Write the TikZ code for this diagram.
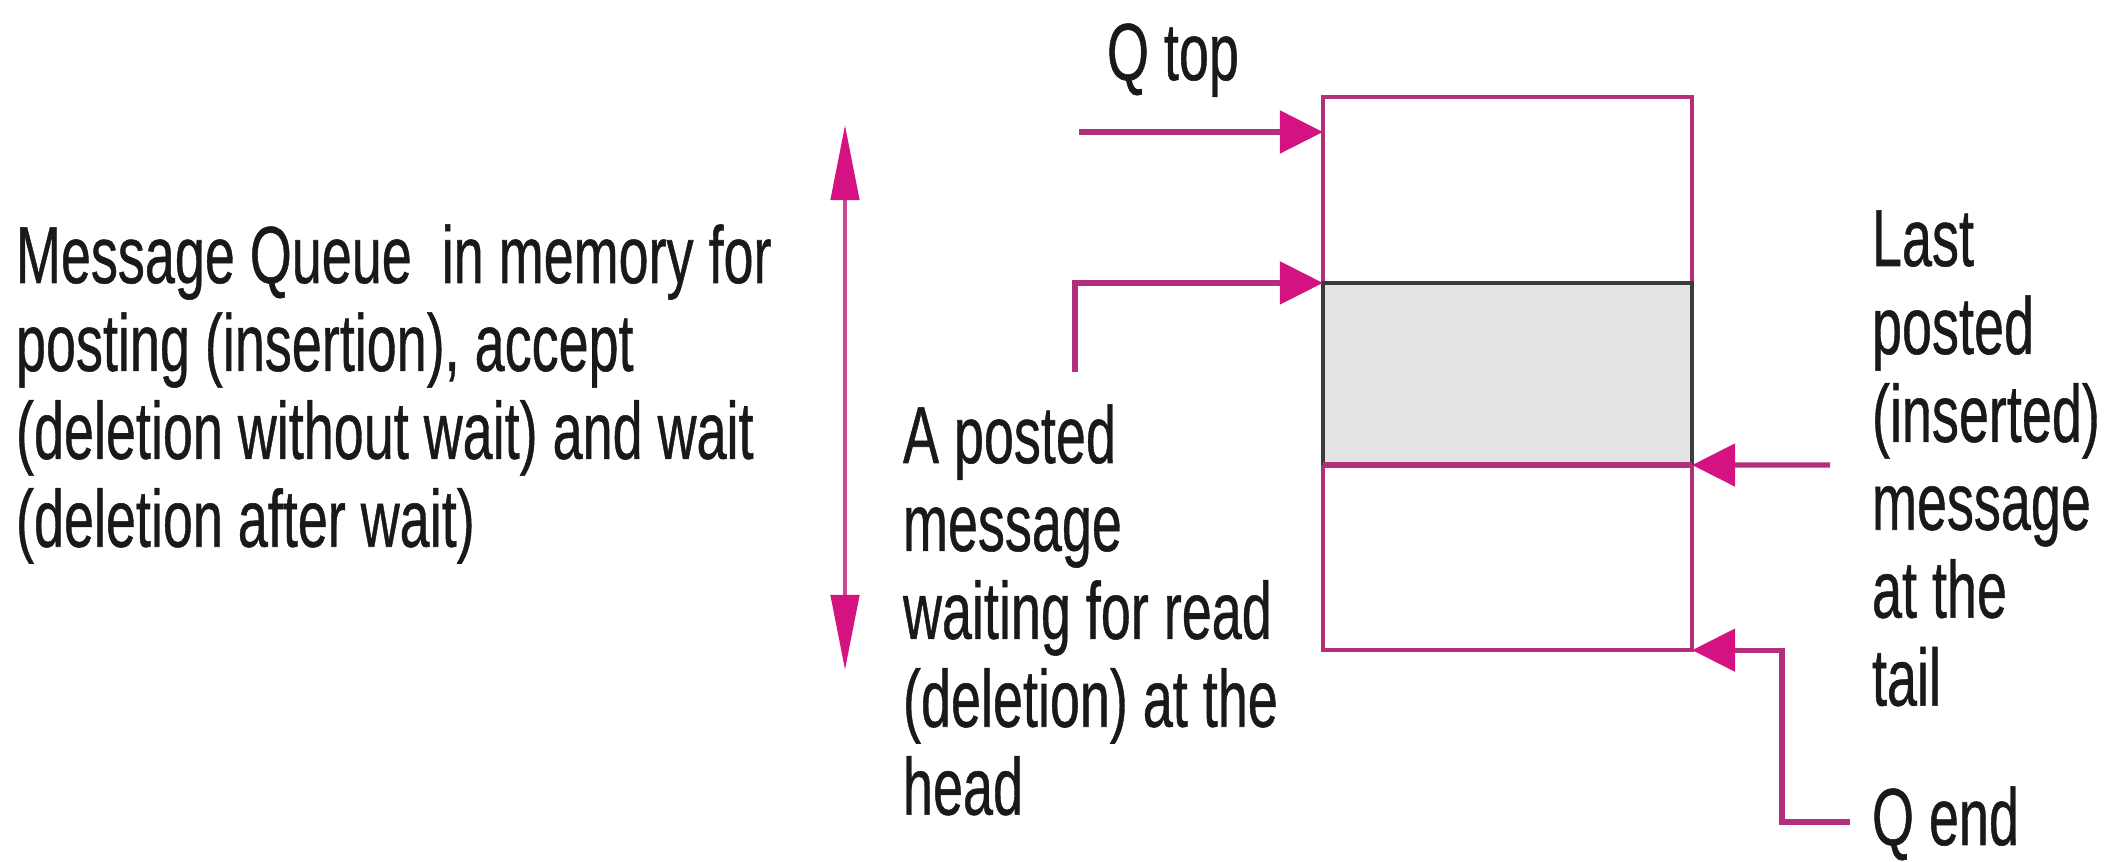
\documentclass[tikz,border=0pt]{standalone}
\usepackage{fontspec}
\setmainfont{Liberation Sans}
\newfontfamily\lblfont{Liberation Sans}[FakeBold=0.7]
\usetikzlibrary{arrows.meta}
\definecolor{pinkline}{RGB}{178,48,122}
\definecolor{pinkhead}{RGB}{212,18,130}
\definecolor{pinklight}{RGB}{206,70,150}
\definecolor{cellgray}{RGB}{228,228,228}
\definecolor{darkline}{RGB}{60,60,60}
\definecolor{txt}{RGB}{25,25,25}
\newcommand{\lbl}[1]{\scalebox{0.667}[1]{\lblfont\fontsize{23}{25}\selectfont\begin{tabular}[t]{@{}l@{}}#1\end{tabular}}}
\tikzset{
  lab/.style={inner sep=0pt, outer sep=0pt, text=txt, anchor=base west},
  qbox/.style={draw=pinkline, line width=1.3pt, inner sep=0pt, outer sep=0pt,
    minimum width=3.69cm, minimum height=5.53cm},
  msgcell/.style={fill=cellgray, inner sep=0pt, outer sep=0pt,
    minimum width=3.69cm, minimum height=1.82cm},
  parrow/.style={draw=pinkline, line width=1.5pt,
    -{Triangle[length=0.43cm,width=0.42cm,color=pinkhead]}},
  varrows/.style={draw=pinklight, line width=1.3pt,
    {Triangle[length=0.75cm,width=0.28cm,color=pinkhead]}-{Triangle[length=0.75cm,width=0.28cm,color=pinkhead]}},
}
\begin{document}
\begin{tikzpicture}[x=0.01cm,y=-0.01cm]
\useasboundingbox (0,0) rectangle (2121,862);
\fill[white] (0,0) rectangle (2121,862);

% queue box
\node[qbox] (queue) at (1507.5,373.5) {};
\node[msgcell] (msgs) at (1507.5,374) {};
\draw[darkline, line width=1.3pt] (msgs.south west) -- (msgs.north west) -- (msgs.north east) -- (msgs.south east);
\draw[pinkline, line width=1.5pt] (msgs.south west) -- (msgs.south east);

% texts
\node[lab] (desc) at (16,283) {\lbl{Message Queue\ \ in memory for\\posting (insertion), accept\\(deletion without wait) and wait\\(deletion after wait)}};
\node[lab] (head) at (903,463) {\lbl{A posted\\message\\waiting for read\\(deletion) at the\\head}};
\node[lab] (tail) at (1872,266) {\lbl{Last\\posted\\(inserted)\\message\\at the\\tail}};
\node[lab] (qtop) at (1107,80) {\lbl{Q top}};
\node[lab] (qend) at (1872,845) {\lbl{Q end}};

% connector free ends
\coordinate (qt0) at (1079,132);
\coordinate (hd0) at (1075,372);
\coordinate (tl0) at (1830,465);
\coordinate (qe0) at (1850,822);
\coordinate (qe1) at (1782,822);
\coordinate (da1) at (845,125);
\coordinate (da2) at (845,670);

% connectors
\draw[parrow] (qt0) -- (qt0 -| queue.west);
\draw[parrow] (hd0) |- (msgs.north west);
\draw[parrow] (tl0) -- (msgs.south east);
\draw[parrow] (qe0) -- (qe1) |- (queue.south east);
\draw[varrows] (da1) -- (da2);
\end{tikzpicture}
\end{document}
